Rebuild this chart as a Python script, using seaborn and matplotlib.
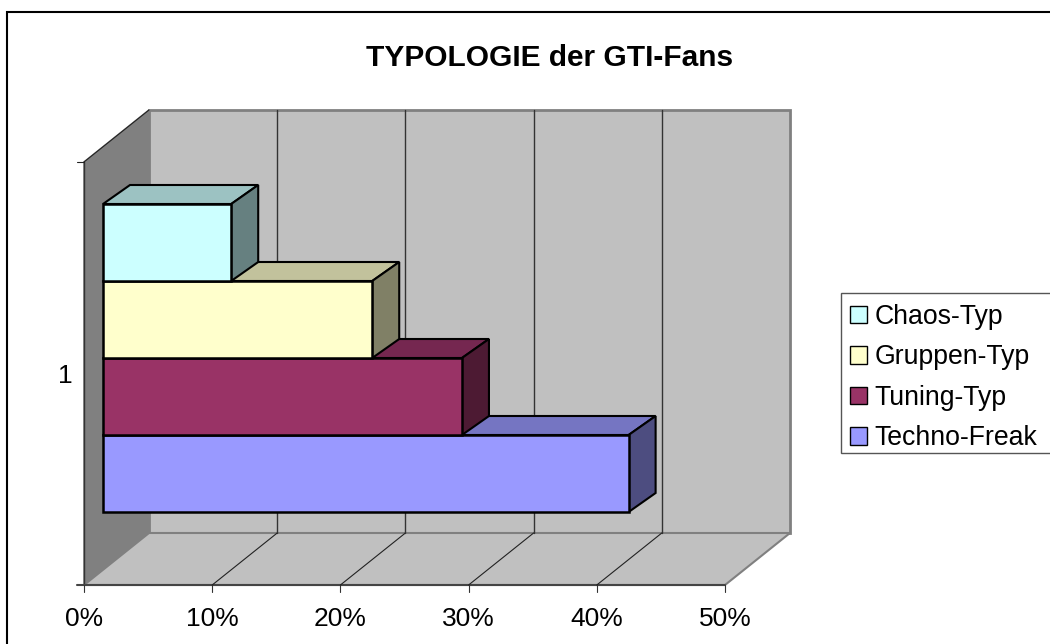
import matplotlib
matplotlib.use("Agg")
import matplotlib.pyplot as plt
import matplotlib.patches as mpatches
import numpy as np
import pandas as pd
import seaborn as sns

sns.set_theme(style="white")
plt.rcParams['font.family'] = ['Liberation Sans', 'DejaVu Sans']

# Data
types = ['Chaos-Typ', 'Gruppen-Typ', 'Tuning-Typ', 'Techno-Freak']
shares = [10, 21, 28, 41]
colors = ['#CCFFFF', '#FFFFCC', '#993366', '#9999FF']
top_colors = ['#9CC2C2', '#C2C29C', '#752750', '#7575C2']
side_colors = ['#668080', '#808066', '#4D1A33', '#4D4D80']
x_ticks = [0, 10, 20, 30, 40, 50]
x_labels = ['0%', '10%', '20%', '30%', '40%', '50%']

W, H = 1050, 644


def px_axes(left, right, top, bottom):
    return fig.add_axes([left / W, 1 - bottom / H, (right - left) / W, (bottom - top) / H])


fig = plt.figure(figsize=(W / 100, H / 100), dpi=100, facecolor='white')

# Chart frame + walls, drawn in pixel coords
bg = fig.add_axes([0, 0, 1, 1])
bg.set_xlim(0, W)
bg.set_ylim(H, 0)
bg.axis('off')
bg.add_patch(mpatches.Rectangle((6.5, 11.5), W + 20, H + 20, fc='white', ec='black', lw=1.5))

x0, x50, front_y, wall_top = 84, 725, 585, 162
dx, dy = 65, -52
grey, dark, edge = '#C0C0C0', '#808080', '#808080'
bg.fill([x0, x0 + dx, x0 + dx, x0], [wall_top, wall_top + dy, front_y + dy, front_y],
        fc=dark, ec=edge, lw=1.2)
bg.fill([x0 + dx, x50 + dx, x50 + dx, x0 + dx], [wall_top + dy, wall_top + dy, front_y + dy, front_y + dy],
        fc=grey, ec=edge, lw=2)
bg.fill([x0, x0 + dx, x50 + dx, x50], [front_y, front_y + dy, front_y + dy, front_y],
        fc=grey, ec=edge, lw=1.5)
bg.plot([x0, x0], [wall_top, front_y], color='#333333', lw=1)
bg.plot([x0, x0 + dx], [wall_top, wall_top + dy], color='#222222', lw=0.8)
bg.plot([x0 - 7, x0], [wall_top, wall_top], color='#222222', lw=0.8)
bg.plot([x0 - 7, x50], [front_y, front_y], color='#444444', lw=1.5)

# Gridlines on floor and back wall, from the axis ticks
scale = (x50 - x0) / x_ticks[-1]
for t, lab in zip(x_ticks, x_labels):
    xp = x0 + t * scale
    bg.plot([xp, xp], [front_y, front_y + 7], color='#333333', lw=0.8)
    bg.text(xp, 619, lab, ha='center', va='center', fontsize=19, color='black')
    if 0 < t < x_ticks[-1]:
        bg.plot([xp, xp + dx], [front_y, front_y + dy], color='#222222', lw=0.8)
        bg.plot([xp + dx, xp + dx], [front_y + dy, wall_top + dy], color='#333333', lw=1)

bg.text(65, 376, '1', ha='center', va='center', fontsize=19, color='black')
bg.text(550, 58, 'TYPOLOGIE der GTI-Fans', ha='center', va='center',
        fontsize=21.5, fontweight='bold', color='black')

# Bars
ax = px_axes(103, 103 + 50 * scale, 204, 512)
ax.patch.set_alpha(0)
df = pd.DataFrame({'type': types, 'share': shares})
sns.barplot(data=df, y='type', x='share', hue='type', order=types, hue_order=types,
            palette=colors, width=1, dodge=False, legend=False, saturation=1,
            edgecolor='black', linewidth=1.8, ax=ax)
ax.set_xlim(0, x_ticks[-1])
ax.set_ylim(len(types) - 0.5, -0.5)
ax.axis('off')

# 3D depth of each bar, lowest bar drawn first
depth_x = 27 / scale
depth_y = -19 / 77
bars = sorted(ax.patches, key=lambda p: p.get_y())
for i in range(len(bars) - 1, -1, -1):
    b = bars[i]
    xl, xr = b.get_x(), b.get_x() + b.get_width()
    yt, yb = b.get_y(), b.get_y() + b.get_height()
    z = 10 + (len(bars) - i) * 3
    ax.fill([xl, xl + depth_x, xr + depth_x, xr], [yt, yt + depth_y, yt + depth_y, yt],
            fc=top_colors[i], ec='black', lw=1.5, zorder=z, clip_on=False)
    ax.fill([xr, xr + depth_x, xr + depth_x, xr], [yt, yt + depth_y, yb + depth_y, yb],
            fc=side_colors[i], ec='black', lw=1.5, zorder=z + 1, clip_on=False)
    b.set_zorder(z + 2)
    b.set_clip_on(False)

# Legend: box runs off the right edge of the image, so the frame is drawn by hand
bg.add_patch(mpatches.Rectangle((840.5, 292.5), W, 160, fc='white', ec='#555555', lw=1))
handles = [mpatches.Patch(fc=c, ec='black', lw=1, label=t) for c, t in zip(colors, types)]
leg = fig.legend(handles=handles, loc='upper left', bbox_to_anchor=(850 / W, 1 - 304 / H),
                 borderaxespad=0, fontsize=19.2, frameon=False, labelspacing=0.54,
                 handlelength=0.63, handleheight=0.63, handletextpad=0.3, borderpad=0,
                 labelcolor='black')

fig.savefig('out.png', dpi=100)
